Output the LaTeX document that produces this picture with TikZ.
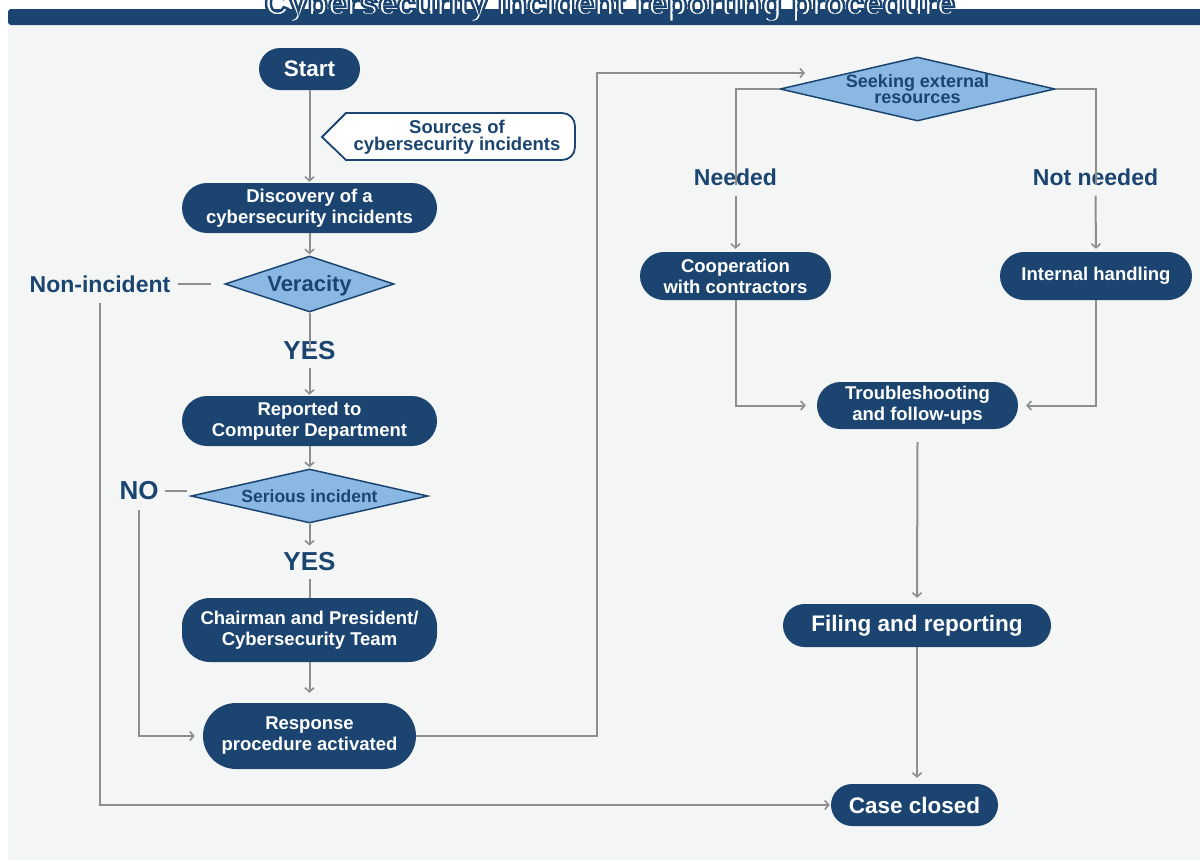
\documentclass[tikz,border=0pt]{standalone}
\usepackage{fontspec}
\setmainfont{Liberation Sans}
\usetikzlibrary{arrows.meta,shapes.geometric,calc}
\definecolor{navy}{HTML}{1B4570}
\definecolor{wire}{HTML}{8E8E8E}
\definecolor{paper}{HTML}{F4F6F6}
\definecolor{skyfill}{HTML}{8AB8E3}
\newcommand{\fsz}[2]{\fontsize{#1}{#2}\selectfont\bfseries}
% white letters with a navy stroke (PDF text render mode 2)
\newcommand{\outlined}[1]{\special{pdf:code 2 Tr 0.106 0.271 0.439 RG 2.4 w}#1\special{pdf:code 0 Tr}}

\begin{document}
\begin{tikzpicture}[x=1pt,y=-1pt,
  pill/.style={rectangle, fill=navy, text=white, align=center, inner sep=0pt,
               font=\fsz{18.5}{21}},
  dec/.style={diamond, draw=navy, line width=1.5pt, fill=skyfill, inner sep=0pt},
  dectext/.style={text=navy, align=center, inner sep=0pt},
  lbl/.style={text=navy, inner sep=0pt, font=\fsz{26}{28}},
  flow/.style={draw=wire, line width=2pt,
               -{Straight Barb[length=4pt,width=9pt,line width=1.6pt]}},
  wirel/.style={draw=wire, line width=2pt},
]
% page and background
\useasboundingbox (0,0) rectangle (1200,860);
\fill[white] (0,0) rectangle (1200,860);
\fill[paper] (8,25) rectangle (1200,860);
\fill[navy, rounded corners=3pt] (8,9) rectangle (1210,25);

% title
\node[anchor=base, text=white, inner sep=0pt, font=\fsz{33.5}{35}] (title)
  at (610,15) {\outlined{Cybersecurity incident reporting procedure}};

% left column
\node[pill, font=\fsz{22.5}{24}, minimum width=101pt, minimum height=42pt, rounded corners=21pt]
  (start) at (309.5,69) {Start};
\draw[navy, line width=1.8pt, fill=white]
  (322,137) -- (346,113) -- (562,113) to[out=0,in=90] (575,126)
  -- (575,147) to[out=-90,in=0] (562,160) -- (346,160) -- cycle;
\node[text=navy, align=center, inner sep=0pt, font=\fsz{18.5}{17}] (src) at (457,137)
  {Sources of\\cybersecurity incidents};
\node[pill, minimum width=255pt, minimum height=50pt, rounded corners=25pt]
  (disc) at (309.5,208) {Discovery of a\\cybersecurity incidents};
\node[dec, minimum width=169pt, minimum height=56pt,
      label={[dectext, font=\fsz{22}{24}, yshift=-2pt]center:Veracity}] (ver) at (309.5,284) {};
\node[lbl, font=\fsz{23}{25}] (nonin) at (100,284) {Non-incident};
\node[lbl] (yes1) at (309.5,351) {YES};
\node[pill, minimum width=255pt, minimum height=50pt, rounded corners=25pt]
  (rep) at (309.5,421) {Reported to\\Computer Department};
\node[dec, minimum width=237pt, minimum height=54pt,
      label={[dectext, font=\fsz{17.5}{19}]center:Serious incident}] (ser) at (309.5,496) {};
\node[lbl] (no) at (139,491) {NO};
\node[lbl] (yes2) at (309.5,562) {YES};
\node[pill, minimum width=255pt, minimum height=64pt, rounded corners=28pt]
  (chair) at (309.5,630) {Chairman and President/\\Cybersecurity Team};
\node[pill, minimum width=213pt, minimum height=66pt, rounded corners=33pt]
  (resp) at (309.5,736) {Response\\procedure activated};

% right column
\node[dec, minimum width=275pt, minimum height=64pt,
      label={[dectext, font=\fsz{18}{16}]center:Seeking external\\resources}]
  (seek) at (917.5,89) {};
\coordinate (seekin) at (805,73);
\node[lbl, font=\fsz{23}{25}] (need) at (735.5,177) {Needed};
\node[lbl, font=\fsz{23}{25}] (notneed) at (1095.5,177) {Not needed};
\node[pill, minimum width=191pt, minimum height=48pt,
      rounded corners=24pt] (coop) at (735.5,276) {Cooperation\\with contractors};
\node[pill, minimum width=192pt, minimum height=48pt,
      rounded corners=24pt] (intl) at (1096,276) {Internal handling};
\node[pill, minimum width=201pt, minimum height=47pt, rounded corners=23.5pt]
  (trb) at (917.5,405.5) {Troubleshooting\\and follow-ups};
\node[pill, font=\fsz{22.5}{24}, minimum width=268pt, minimum height=43pt,
      rounded corners=21.5pt] (file) at (917,625.5) {Filing and reporting};
\node[pill, font=\fsz{22.5}{24}, minimum width=167pt, minimum height=42pt,
      rounded corners=21pt] (close) at (914.5,805) {Case closed};

% connectors, left column
\draw[flow, shorten >=1pt] (start.south) -- (disc.north);
\draw[flow, shorten >=1pt] (disc.south) -- (ver.north);
\draw[wirel] ([xshift=8pt]nonin.east) -- ([xshift=-13pt]ver.west);
\draw[flow, shorten >=1pt] ([yshift=-10pt]nonin.south) |- (close.west);
\draw[wirel] (ver.south) -- ([yshift=-7pt]yes1.north);
\draw[flow, shorten >=1pt] ([yshift=-8pt]yes1.south) -- (rep.north);
\draw[flow, shorten >=1pt] (rep.south) -- (ser.north);
\draw[wirel] ([xshift=6pt]no.east) -- ++(22,0);
\draw[flow, shorten >=8pt] ([yshift=-10pt]no.south) |- (resp.west);
\draw[flow] (ser.south) -- ([yshift=7pt]yes2.north);
\draw[wirel] ([yshift=-8pt]yes2.south) -- (chair.north);
\draw[flow, shorten >=10pt] (chair.south) -- (resp.north);
\draw[flow] (resp.east) -- (597,736) |- (seekin);

% connectors, right column
\draw[wirel] (seek.west) -| ([yshift=-17pt]need.north);
\draw[flow, shorten >=3pt] ([yshift=-10pt]need.south) -- (coop.north);
\draw[wirel] (seek.east) -| ([yshift=-17pt]notneed.north);
\draw[flow, shorten >=3pt] ([yshift=-10pt]notneed.south) -- (intl.north);
\draw[flow, shorten >=11pt] (coop.south) |- (trb.west);
\draw[flow, shorten >=8pt] (intl.south) |- (trb.east);
\draw[flow, shorten >=6pt] ([yshift=-13pt]trb.south) -- (file.north);
\draw[flow, shorten >=6pt] (file.south) -- (file.south |- close.north);
\end{tikzpicture}
\end{document}
